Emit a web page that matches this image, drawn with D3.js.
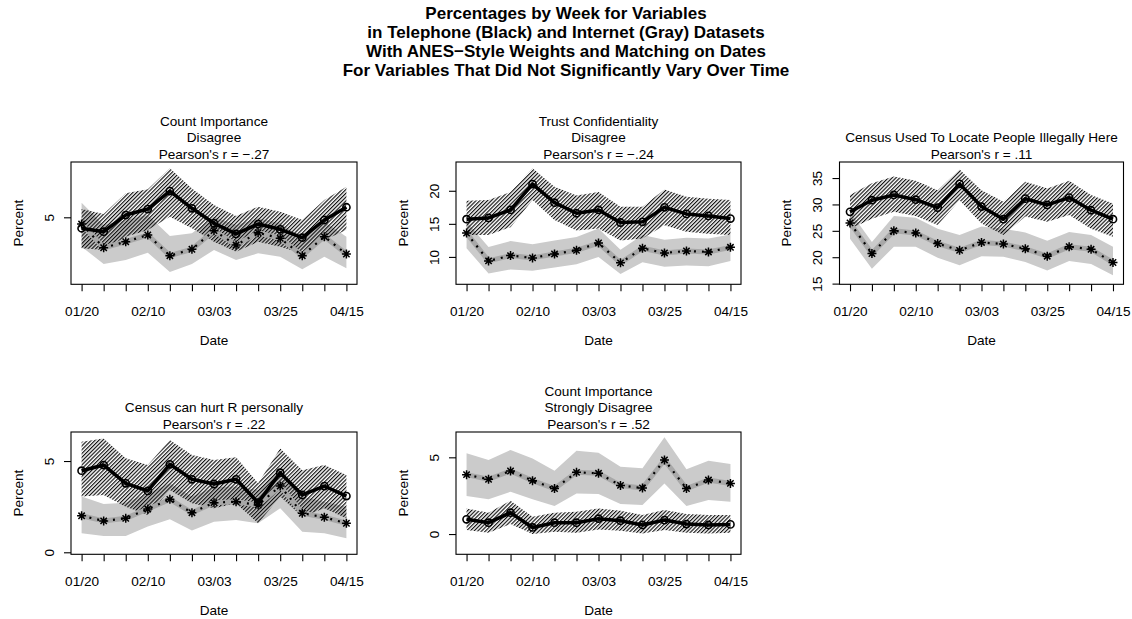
<!DOCTYPE html>
<html>
<head>
<meta charset="utf-8">
<script src="https://cdn.jsdelivr.net/npm/d3@7/dist/d3.min.js"></script>
<style>
  html, body { margin: 0; padding: 0; background: #fff; }
  svg { display: block; font-family: "Liberation Sans", Arial, Helvetica, sans-serif; }
</style>
</head>
<body>
<svg id="chart" width="1132" height="619"></svg>
<script>
// Weekly tick labels (only every third week is labelled on the axis)
const weekLabels = ["01/20", "", "", "02/10", "", "", "03/03", "", "", "03/25", "", "", "04/15"];

// Count Importance: Disagree
const p1TelEst = [4.27, 4.04, 5.15, 5.55, 6.75, 5.60, 4.60, 3.89, 4.55, 4.20, 3.64, 4.82, 5.67];
const p1TelLo  = [2.93, 2.82, 3.70, 4.15, 5.04, 4.27, 3.37, 2.71, 3.37, 3.04, 2.60, 3.49, 4.15];
const p1TelHi  = [5.55, 5.22, 6.60, 6.87, 8.27, 6.93, 5.82, 5.09, 5.71, 5.37, 4.82, 6.15, 7.04];
const p1WebEst = [4.55, 2.97, 3.37, 3.82, 2.44, 2.87, 4.11, 3.15, 3.97, 3.60, 2.44, 3.71, 2.55];
const p1WebLo  = [3.04, 1.89, 2.15, 2.64, 1.35, 1.89, 2.82, 2.15, 2.60, 2.37, 1.53, 2.37, 1.60];
const p1WebHi  = [5.97, 4.49, 4.82, 5.15, 3.75, 3.93, 5.04, 4.49, 4.93, 4.60, 3.60, 4.71, 3.71];

// Trust Confidentiality: Disagree
const p2TelEst = [15.7, 15.9, 17.1, 21.0, 18.2, 16.6, 17.1, 15.2, 15.3, 17.5, 16.5, 16.2, 15.8];
const p2TelLo  = [13.3, 13.3, 14.5, 18.6, 15.6, 14.0, 14.3, 12.5, 12.8, 14.8, 13.8, 13.5, 13.3];
const p2TelHi  = [18.5, 18.6, 19.8, 23.4, 20.6, 19.3, 19.8, 17.6, 17.6, 20.2, 19.1, 18.8, 18.6];
const p2WebEst = [13.6, 9.4, 10.2, 9.85, 10.45, 11.0, 12.1, 9.1, 11.3, 10.6, 10.9, 10.75, 11.45];
const p2WebLo  = [11.3, 7.5, 8.1, 7.9, 8.4, 8.9, 10.0, 7.4, 9.2, 8.5, 8.7, 8.6, 9.4];
const p2WebHi  = [15.3, 11.5, 12.4, 11.9, 12.5, 13.0, 14.3, 11.1, 13.3, 12.6, 12.9, 12.8, 13.4];

// Census Used To Locate People Illegally Here
const p3TelEst = [28.6, 30.8, 31.8, 30.9, 29.4, 33.9, 29.6, 27.2, 31.1, 29.9, 31.3, 28.9, 27.2];
const p3TelLo  = [25.4, 27.3, 28.6, 27.8, 26.1, 30.8, 26.4, 24.2, 27.7, 26.7, 28.0, 25.4, 23.9];
const p3TelHi  = [31.8, 34.0, 35.3, 34.5, 32.7, 36.6, 32.7, 30.5, 34.3, 33.0, 34.5, 31.8, 30.2];
const p3WebEst = [26.5, 20.7, 25.0, 24.6, 22.6, 21.3, 22.8, 22.5, 21.6, 20.2, 22.0, 21.5, 19.0];
const p3WebLo  = [23.5, 17.8, 22.0, 22.0, 19.9, 18.5, 20.2, 20.1, 19.1, 17.5, 19.3, 18.7, 16.6];
const p3WebHi  = [28.6, 22.9, 27.8, 27.5, 25.4, 24.2, 25.8, 25.4, 24.7, 23.1, 24.8, 24.2, 22.0];

// Census can hurt R personally
const p4TelEst = [4.47, 4.78, 3.78, 3.36, 4.82, 4.00, 3.74, 4.00, 2.72, 4.36, 3.14, 3.63, 3.08];
const p4TelLo  = [3.05, 3.14, 2.50, 2.04, 3.41, 2.68, 2.41, 2.68, 1.59, 3.05, 1.95, 2.41, 1.86];
const p4TelHi  = [6.06, 6.24, 5.15, 4.78, 6.15, 5.33, 5.05, 5.20, 3.78, 5.69, 4.50, 4.78, 4.23];
const p4WebEst = [2.00, 1.72, 1.86, 2.37, 2.90, 2.17, 2.72, 2.77, 2.59, 3.63, 2.14, 1.92, 1.59];
const p4WebLo  = [1.04, 0.89, 0.89, 1.41, 1.81, 1.19, 1.68, 1.77, 1.59, 2.41, 1.13, 1.04, 0.77];
const p4WebHi  = [3.05, 2.65, 2.72, 3.23, 3.78, 3.05, 3.56, 3.60, 3.41, 4.50, 3.05, 2.77, 2.50];

// Count Importance: Strongly Disagree
const p5TelEst = [0.96, 0.74, 1.39, 0.43, 0.74, 0.74, 1.00, 0.87, 0.59, 0.91, 0.65, 0.59, 0.63];
const p5TelLo  = [0.26, 0.09, 0.65, 0.00, 0.15, 0.09, 0.30, 0.22, 0.04, 0.26, 0.09, 0.04, 0.09];
const p5TelHi  = [1.67, 1.39, 2.17, 1.13, 1.39, 1.46, 1.67, 1.52, 1.24, 1.57, 1.30, 1.24, 1.24];
const p5WebEst = [3.87, 3.57, 4.11, 3.48, 2.96, 4.02, 3.96, 3.17, 3.00, 4.83, 2.96, 3.52, 3.30];
const p5WebLo  = [2.48, 2.26, 2.76, 2.26, 1.83, 2.65, 2.61, 1.96, 1.89, 3.30, 1.83, 2.22, 2.11];
const p5WebHi  = [5.26, 4.83, 5.48, 4.93, 4.13, 5.43, 5.30, 4.39, 4.28, 6.30, 4.22, 4.78, 4.57];

const mainTitle = [
  "Percentages by Week for Variables",
  "in Telephone (Black) and Internet (Gray) Datasets",
  "With ANES\u2212Style Weights and Matching on Dates",
  "For Variables That Did Not Significantly Vary Over Time"
];

const panels = [
  { title: ["Count Importance", "Disagree", "Pearson's r = \u2212.27"],
    tel: [p1TelEst, p1TelLo, p1TelHi], web: [p1WebEst, p1WebLo, p1WebHi],
    yDomain: [0.53, 8.69], yTicks: [5], col: 0, row: 0 },
  { title: ["Trust Confidentiality", "Disagree", "Pearson's r = \u2212.24"],
    tel: [p2TelEst, p2TelLo, p2TelHi], web: [p2WebEst, p2WebLo, p2WebHi],
    yDomain: [5.86, 24.35], yTicks: [10, 15, 20], col: 1, row: 0 },
  { title: ["Census Used To Locate People Illegally Here", "Pearson's r = .11"],
    tel: [p3TelEst, p3TelLo, p3TelHi], web: [p3WebEst, p3WebLo, p3WebHi],
    yDomain: [14.87, 38.04], yTicks: [15, 20, 25, 30, 35], col: 2, row: 0 },
  { title: ["Census can hurt R personally", "Pearson's r = .22"],
    tel: [p4TelEst, p4TelLo, p4TelHi], web: [p4WebEst, p4WebLo, p4WebHi],
    yDomain: [-0.11, 6.59], yTicks: [0, 5], col: 0, row: 1 },
  { title: ["Count Importance", "Strongly Disagree", "Pearson's r = .52"],
    tel: [p5TelEst, p5TelLo, p5TelHi], web: [p5WebEst, p5WebLo, p5WebHi],
    yDomain: [-1.32, 6.65], yTicks: [0, 5], col: 1, row: 1 }
];

// Plot-region geometry for the 2 x 3 grid
const colX = [[71, 357], [456, 741], [839.5, 1123.5]];
const rowY = [[162, 284.3], [432, 554.3]];

const svg = d3.select("#chart");
const defs = svg.append("defs");

// Diagonal hatching for the telephone confidence band
const hatch = defs.append("pattern")
  .attr("id", "hatch")
  .attr("patternUnits", "userSpaceOnUse")
  .attr("width", 2.7).attr("height", 10)
  .attr("patternTransform", "rotate(45)");
hatch.append("line")
  .attr("x1", 0.6).attr("y1", 0).attr("x2", 0.6).attr("y2", 10)
  .attr("stroke", "#000").attr("stroke-width", 1.1);

// Main title
svg.append("g").selectAll("text")
  .data(mainTitle)
  .join("text")
  .attr("x", 566)
  .attr("y", (d, i) => 19 + i * 19)
  .attr("text-anchor", "middle")
  .attr("font-size", 17)
  .attr("font-weight", "bold")
  .attr("fill", "#000")
  .text(d => d);

const n = weekLabels.length;
const pad = (n - 1) * 0.04;

function asteriskPath(cx, cy, r) {
  const d = r * Math.SQRT1_2;
  return `M${cx - r},${cy}L${cx + r},${cy}M${cx},${cy - r}L${cx},${cy + r}` +
         `M${cx - d},${cy - d}L${cx + d},${cy + d}M${cx - d},${cy + d}L${cx + d},${cy - d}`;
}

panels.forEach(p => {
  const [x0, x1] = colX[p.col];
  const [y0, y1] = rowY[p.row];
  const g = svg.append("g");

  const x = d3.scaleLinear().domain([-pad, n - 1 + pad]).range([x0, x1]);
  const y = d3.scaleLinear().domain(p.yDomain).range([y1, y0]);
  const idx = d3.range(n);

  const clipId = `clip-${p.col}-${p.row}`;
  defs.append("clipPath").attr("id", clipId)
    .append("rect").attr("x", x0).attr("y", y0).attr("width", x1 - x0).attr("height", y1 - y0);
  const plot = g.append("g").attr("clip-path", `url(#${clipId})`);

  const band = (lo, hi) => d3.area()
    .x(i => x(i)).y0(i => y(lo[i])).y1(i => y(hi[i]))(idx);
  const line = (v) => d3.line().x(i => x(i)).y(i => y(v[i]))(idx);

  // Internet band (gray) and telephone band (hatched)
  plot.append("path").attr("d", band(p.web[1], p.web[2])).attr("fill", "#cbcbcb");
  plot.append("path").attr("d", band(p.tel[1], p.tel[2])).attr("fill", "url(#hatch)");

  // Internet estimate: thick gray line with a dotted black overlay and asterisks
  plot.append("path").attr("d", line(p.web[0]))
    .attr("fill", "none").attr("stroke", "#a8a8a8").attr("stroke-width", 5)
    .attr("stroke-linejoin", "round");
  plot.append("path").attr("d", line(p.web[0]))
    .attr("fill", "none").attr("stroke", "#000").attr("stroke-width", 2.2)
    .attr("stroke-dasharray", "2,6");
  plot.append("g").selectAll("path")
    .data(idx).join("path")
    .attr("d", i => asteriskPath(x(i), y(p.web[0][i]), 4.5))
    .attr("stroke", "#000").attr("stroke-width", 1.5).attr("fill", "none");

  // Telephone estimate: thick black line with open circles
  plot.append("path").attr("d", line(p.tel[0]))
    .attr("fill", "none").attr("stroke", "#000").attr("stroke-width", 3.5)
    .attr("stroke-linejoin", "round");
  plot.append("g").selectAll("circle")
    .data(idx).join("circle")
    .attr("cx", i => x(i)).attr("cy", i => y(p.tel[0][i])).attr("r", 3.6)
    .attr("fill", "none").attr("stroke", "#000").attr("stroke-width", 1.6);

  // Box
  g.append("rect").attr("x", x0).attr("y", y0).attr("width", x1 - x0).attr("height", y1 - y0)
    .attr("fill", "none").attr("stroke", "#000").attr("stroke-width", 1.1);

  // X axis
  const xAxis = d3.axisBottom(x).tickValues(idx).tickFormat(i => weekLabels[i])
    .tickSize(7).tickSizeOuter(0).tickPadding(15);
  const gx = g.append("g").attr("transform", `translate(0,${y1})`).call(xAxis);
  gx.select(".domain").remove();
  gx.selectAll("line").attr("stroke", "#000").attr("stroke-width", 1.1);
  gx.selectAll("text").attr("font-size", 13.6).attr("fill", "#000")
    .attr("font-family", "Liberation Sans, Arial, Helvetica, sans-serif");

  // Y axis with labels parallel to the axis
  const yAxis = d3.axisLeft(y).tickValues(p.yTicks).tickFormat(d3.format("d"))
    .tickSize(7).tickSizeOuter(0);
  const gy = g.append("g").attr("transform", `translate(${x0},0)`).call(yAxis);
  gy.select(".domain").remove();
  gy.selectAll("line").attr("stroke", "#000").attr("stroke-width", 1.1);
  gy.selectAll("text")
    .attr("font-size", 13.6).attr("fill", "#000")
    .attr("font-family", "Liberation Sans, Arial, Helvetica, sans-serif")
    .attr("x", null).attr("dy", null)
    .attr("text-anchor", "middle")
    .attr("transform", "translate(-22,0) rotate(-90) translate(0,4.9)");

  // Axis titles
  g.append("text").attr("x", (x0 + x1) / 2).attr("y", y1 + 61)
    .attr("text-anchor", "middle").attr("font-size", 13.6).text("Date");
  g.append("text")
    .attr("transform", `translate(${x0 - 53},${(y0 + y1) / 2}) rotate(-90)`)
    .attr("dy", 4.9)
    .attr("text-anchor", "middle").attr("font-size", 13.6).text("Percent");

  // Panel title, bottom line just above the box
  const nt = p.title.length;
  g.append("g").selectAll("text")
    .data(p.title).join("text")
    .attr("x", (x0 + x1) / 2)
    .attr("y", (d, i) => y0 - 2.8 - (nt - 1 - i) * 16.8)
    .attr("text-anchor", "middle").attr("font-size", 13.6).attr("fill", "#000")
    .text(d => d);
});
</script>
</body>
</html>
